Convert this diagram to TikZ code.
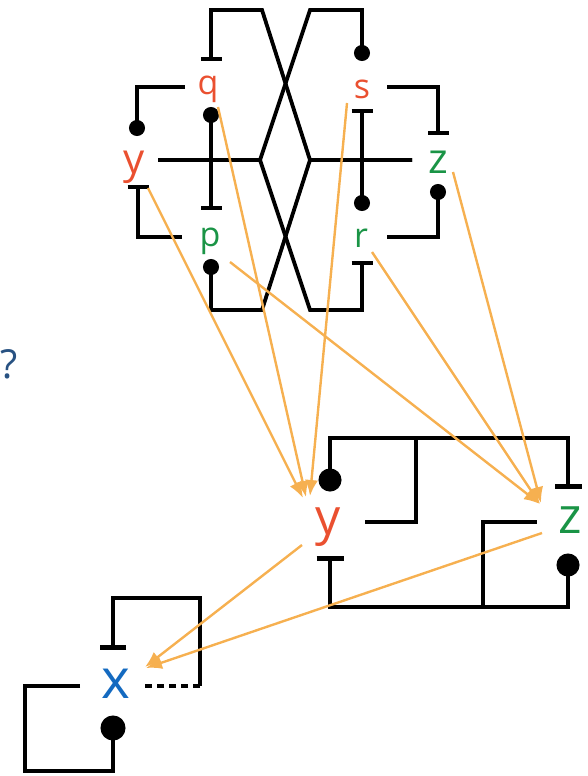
\documentclass[tikz,border=0pt]{standalone}
\usepackage{fontspec}
\setmainfont{Open Sans}
\usetikzlibrary{arrows.meta}

\definecolor{actred}{RGB}{234,80,48}
\definecolor{actgreen}{RGB}{26,148,70}
\definecolor{xblue}{RGB}{20,106,192}
\definecolor{qblue}{RGB}{40,82,130}
\definecolor{flowc}{RGB}{246,176,80}

\tikzset{
  barS/.tip={Bar[width=21pt]},
  dotS/.tip={Circle[length=16pt,width=16pt]},
  barL/.tip={Bar[width=27pt]},
  dotL/.tip={Circle[length=23pt,width=23pt]},
  barX/.tip={Bar[width=26pt]},
  dotX/.tip={Circle[length=25pt,width=25pt]},
}

\begin{document}
\begin{tikzpicture}[x=1pt,y=-1pt,
  lbl/.style={inner sep=0pt, anchor=base},
  small/.style={lbl, font=\fontsize{34}{34}\selectfont},
  mid/.style={lbl, font=\fontsize{42}{42}\selectfont},
  big/.style={lbl, font=\fontsize{50}{50}\selectfont},
  huge/.style={lbl, font=\fontsize{55}{55}\selectfont},
  wireA/.style={draw=black, line width=3.8pt},
  wireB/.style={draw=black, line width=4.8pt},
  flow/.style={draw=flowc, line width=2.4pt, -{Latex[length=16pt,width=13pt]}},
]
\useasboundingbox (0,0) rectangle (587,776);

% ---- upper network: labels
\node[small, text=actred]   (q) at (208,94)  {q};
\node[small, text=actred]   (s) at (362,98)  {s};
\node[mid,   text=actred]   (y) at (134,173) {y};
\node[mid,   text=actgreen] (z) at (438,173) {z};
\node[small, text=actgreen] (p) at (210,246) {p};
\node[small, text=actgreen] (r) at (361,247) {r};

% crossing junctions
\coordinate (L)  at (260,160);
\coordinate (R)  at (310,160);
\coordinate (TL) at (262,10);
\coordinate (TR) at (310,10);
\coordinate (BL) at (262,310);
\coordinate (BR) at (310,310);

% crossing wires
\draw[wireA,-barS] (412,160) -- (R) -- (TL) -- (211,10) -- (211,61);
\draw[wireA,-dotS] (158,160) -- (L) -- (TR) -- (362,10) -- (362,61);
\draw[wireA,-barS] (158,160) -- (L) -- (BR) -- (362,310) -- (362,261);
\draw[wireA,-dotS] (412,160) -- (R) -- (BL) -- (211,310) -- (211,259);

% vertical links through the axis
\draw[wireA,dotS-barS] (211,107) -- (211,210);
\draw[wireA,barS-dotS] (362,109) -- (362,211);

% side loops
\draw[wireA,-dotS] (185,87)  -- (137,87)  -- (137,136);
\draw[wireA,-barS] (182,237) -- (138,237) -- (138,185);
\draw[wireA,-barS] (387,87)  -- (438,87)  -- (438,135);
\draw[wireA,-dotS] (387,237) -- (438,237) -- (438,184);

% ---- middle network
\node[big, text=actred]   (Y) at (328,534) {y};
\node[big, text=actgreen] (Z) at (570,533) {z};

\draw[wireB,dotL-barL] (330,491.5) -- (330,438) -- (568,438) -- (568,489);
\draw[wireB] (416,438) -- (416,522) -- (365,522);
\draw[wireB,barL-dotL] (330,556) -- (330,607) -- (568,607) -- (568,553.5);
\draw[wireB] (483,607) -- (483,522) -- (537,522);

% ---- lower network
\node[huge, text=xblue] (X) at (116,698) {x};

\draw[wireB,-barX] (200,686) -- (200,598) -- (113,598) -- (113,650);
\draw[wireB,dash pattern=on 7pt off 5pt] (200,686) -- (145,686);
\draw[wireB,-dotX] (80,686) -- (25,686) -- (25,771) -- (113,771) -- (113,715.5);

% question mark at the left edge
\node[lbl, anchor=base west, text=qblue, font=\fontsize{40}{40}\selectfont] (qm) at (0,378) {?};

% ---- coarse-graining arrows
\draw[flow] ([shift={(14,15)}]y.base)  -- ([shift={(-25,-36)}]Y.base);
\draw[flow] ([shift={(10,13)}]q.base)  -- ([shift={(-22,-37)}]Y.base);
\draw[flow] ([shift={(-15,5)}]s.base)  -- ([shift={(-18,-38)}]Y.base);
\draw[flow] ([shift={(20,16)}]p.base)  -- ([shift={(-30,-29)}]Z.base);
\draw[flow] ([shift={(11,5)}]r.base)   -- ([shift={(-30,-29)}]Z.base);
\draw[flow] ([shift={(15,-1)}]z.base)  -- ([shift={(-29,-30)}]Z.base);
\draw[flow] ([shift={(-26,11)}]Y.base) -- ([shift={(29,-31)}]X.base);
\draw[flow] ([shift={(-28,0)}]Z.base)  -- ([shift={(30,-30)}]X.base);
\end{tikzpicture}
\end{document}
